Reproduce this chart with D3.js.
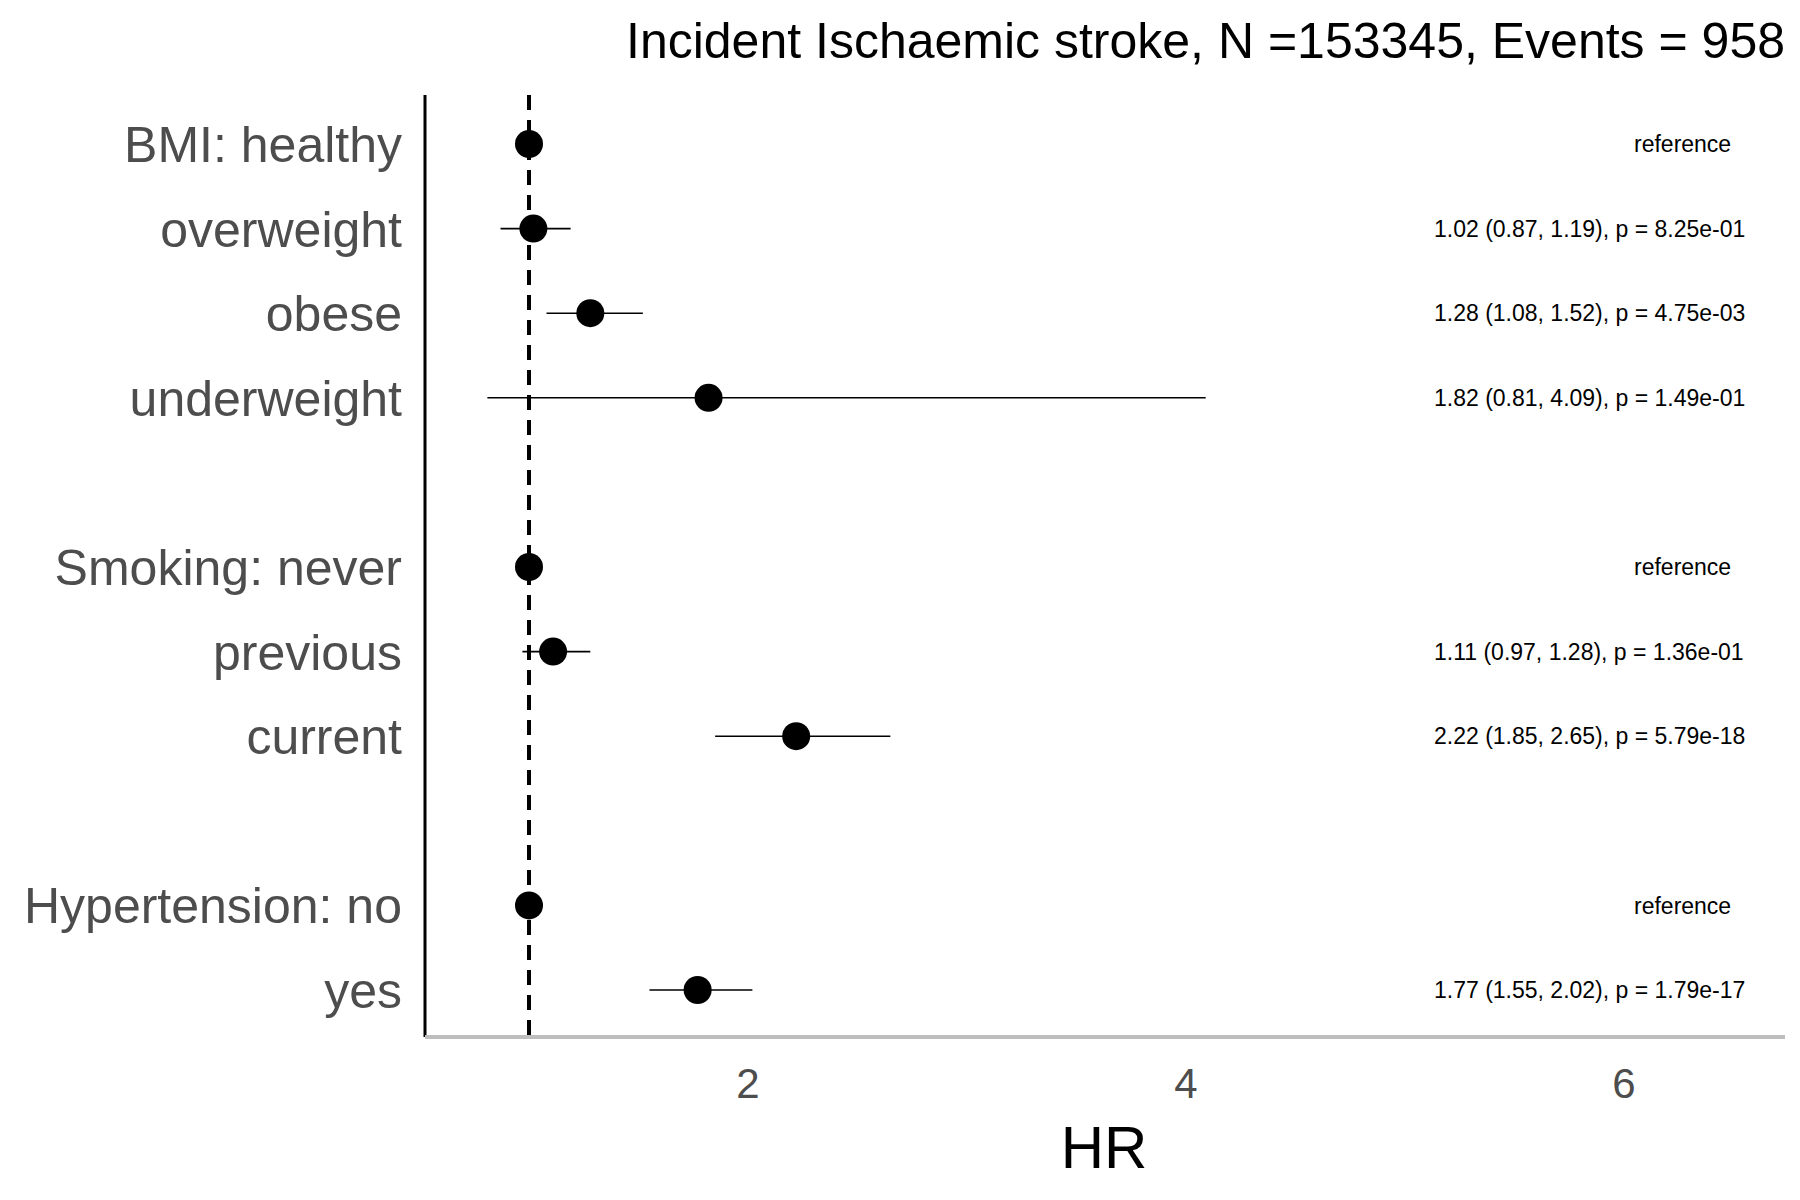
<!DOCTYPE html>
<html><head><meta charset="utf-8">
<script src="https://cdn.jsdelivr.net/npm/d3@7"></script>
<style>body{margin:0;background:#fff}</style>
</head><body>
<svg id="mainsvg" width="1800" height="1200"></svg>
<script>
const labels = ['BMI: healthy','overweight','obese','underweight','Smoking: never','previous','current','Hypertension: no','yes'];
const rows = [0,1,2,3,5,6,7,9,10];
const hr = [1,1.02,1.28,1.82,1,1.11,2.22,1,1.77];
const lo = [null,0.87,1.08,0.81,null,0.97,1.85,null,1.55];
const hi = [null,1.19,1.52,4.09,null,1.28,2.65,null,2.02];
const notes = ['reference','1.02 (0.87, 1.19), p = 8.25e-01','1.28 (1.08, 1.52), p = 4.75e-03','1.82 (0.81, 4.09), p = 1.49e-01',
  'reference','1.11 (0.97, 1.28), p = 1.36e-01','2.22 (1.85, 2.65), p = 5.79e-18','reference','1.77 (1.55, 2.02), p = 1.79e-17'];
const xTicks = [2,4,6];
const title = 'Incident Ischaemic stroke, N =153345, Events = 958';

const svg = d3.select('#mainsvg');
const x = d3.scaleLinear().domain([0, 6]).range([529 - 219, 529 + 5 * 219]);
const y = d3.scaleLinear().domain([0, 10]).range([144, 990]);
const x0 = 425, x1 = 1785, yTop = y(-0.58), yBot = 1037;
const font = 'Liberation Sans, Arial, sans-serif';

// axes
svg.append('line').attr('x1', x0).attr('x2', x0).attr('y1', yTop).attr('y2', yBot)
  .attr('stroke', '#000').attr('stroke-width', 3);
svg.append('line').attr('x1', x0).attr('x2', x1).attr('y1', yBot).attr('y2', yBot)
  .attr('stroke', '#bebebe').attr('stroke-width', 4);
svg.selectAll('.xt').data(xTicks).join('text')
  .attr('x', d => x(d)).attr('y', 1098).attr('text-anchor', 'middle')
  .attr('font-family', font).attr('font-size', 42).attr('fill', '#4d4d4d').text(d => d);
svg.append('text').attr('x', 1104).attr('y', 1168).attr('text-anchor', 'middle')
  .attr('font-family', font).attr('font-size', 60).attr('fill', '#000').text('HR');
svg.append('text').attr('x', 1785).attr('y', 58).attr('text-anchor', 'end')
  .attr('font-family', font).attr('font-size', 50).attr('fill', '#000').text(title);

// y labels
svg.selectAll('.yl').data(labels).join('text')
  .attr('x', 402).attr('y', (d, i) => y(rows[i])).attr('dy', '0.36em').attr('text-anchor', 'end')
  .attr('font-family', font).attr('font-size', 50).attr('fill', '#4d4d4d').text(d => d);

// reference line
svg.append('line').attr('x1', x(1)).attr('x2', x(1)).attr('y1', yTop).attr('y2', yBot)
  .attr('stroke', '#000').attr('stroke-width', 4).attr('stroke-dasharray', '15,10');

// CIs and points
const idx = d3.range(labels.length);
svg.selectAll('.ci').data(idx.filter(i => lo[i] != null)).join('line')
  .attr('x1', i => x(lo[i])).attr('x2', i => x(hi[i]))
  .attr('y1', i => y(rows[i])).attr('y2', i => y(rows[i]))
  .attr('stroke', '#000').attr('stroke-width', 1.6);
svg.selectAll('.pt').data(idx).join('circle')
  .attr('cx', i => x(hr[i])).attr('cy', i => y(rows[i])).attr('r', 14).attr('fill', '#000');

// annotations
svg.selectAll('.nt').data(idx).join('text')
  .attr('x', i => notes[i] === 'reference' ? 1634 : 1434)
  .attr('y', i => y(rows[i])).attr('dy', '0.36em')
  .attr('font-family', font).attr('font-size', 23).attr('fill', '#000').text(i => notes[i]);
</script>
</body></html>
